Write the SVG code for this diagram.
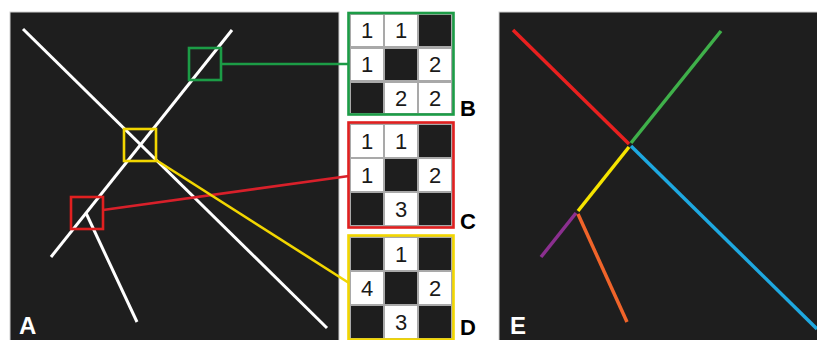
<svg xmlns="http://www.w3.org/2000/svg" width="817" height="340" viewBox="0 0 817 340">
<style>
.panel{fill:#1e1e1e;stroke:#cfcfcf;stroke-width:1}
.wl{stroke:#ffffff;stroke-width:3;stroke-linecap:butt;fill:none}
.el{stroke-width:3.5;stroke-linecap:butt;fill:none}
.grid{fill:#a9a9a9}
.w{fill:#ffffff}
.b{fill:#1e1e1e}
.num{font-family:"Liberation Sans",Arial,sans-serif;font-size:22px;fill:#1a1a1a;text-anchor:middle}
.lab{font-family:"Liberation Sans",Arial,sans-serif;font-size:22px;font-weight:bold}
.big{font-size:24px}
.box{fill:none;stroke-width:2.6}
</style>
<rect width="817" height="340" fill="#ffffff"/>
<g id="panelA">
<rect class="panel" x="10" y="12" width="329" height="330"/>
<line class="wl" x1="23" y1="29" x2="327" y2="328"/>
<line class="wl" x1="232" y1="30" x2="51" y2="257"/>
<line class="wl" x1="86" y1="213" x2="137" y2="322"/>
<text class="lab big" x="19" y="334" fill="#ffffff">A</text>
</g>
<g id="connectors">
<line x1="221" y1="64" x2="349" y2="64" stroke="#1c9c46" stroke-width="2.6"/>
<line x1="103" y1="210" x2="349" y2="176" stroke="#d8202a" stroke-width="2.6"/>
<line x1="156" y1="160" x2="349" y2="283" stroke="#f2d600" stroke-width="2.6"/>
</g>
<g id="boxGreen"><rect class="box" x="189" y="48" width="32" height="32" stroke="#1c9c46"/></g>
<g id="boxYellow"><rect class="box" x="124" y="129" width="32" height="32" stroke="#f2d600"/></g>
<g id="boxRed"><rect class="box" x="71" y="197" width="32" height="32" stroke="#e02020"/></g>
<g id="gridB">
<rect class="grid" x="349" y="13" width="104" height="101"/>
<rect class="w" x="351" y="15" width="32" height="31"/>
<rect class="w" x="385" y="15" width="32" height="31"/>
<rect class="b" x="419" y="15" width="32" height="31"/>
<rect class="w" x="351" y="49" width="32" height="31"/>
<rect class="b" x="385" y="49" width="32" height="31"/>
<rect class="w" x="419" y="49" width="32" height="31"/>
<rect class="b" x="351" y="83" width="32" height="30"/>
<rect class="w" x="385" y="83" width="32" height="30"/>
<rect class="w" x="419" y="83" width="32" height="30"/>
<text class="num" x="367" y="38">1</text>
<text class="num" x="401" y="38">1</text>
<text class="num" x="367" y="72">1</text>
<text class="num" x="435" y="72">2</text>
<text class="num" x="401" y="106">2</text>
<text class="num" x="435" y="106">2</text>
<rect class="box" x="348.5" y="13" width="105" height="101.5" stroke="#1c9c46"/>
<text class="lab" x="460" y="116" fill="#000000">B</text>
</g>
<g id="gridC">
<rect class="grid" x="349" y="122" width="104" height="105"/>
<rect class="w" x="351" y="125" width="32" height="32"/>
<rect class="w" x="385" y="125" width="32" height="32"/>
<rect class="b" x="419" y="125" width="32" height="32"/>
<rect class="w" x="351" y="159" width="32" height="32"/>
<rect class="b" x="385" y="159" width="32" height="32"/>
<rect class="w" x="419" y="159" width="32" height="32"/>
<rect class="b" x="351" y="193" width="32" height="32"/>
<rect class="w" x="385" y="193" width="32" height="32"/>
<rect class="b" x="419" y="193" width="32" height="32"/>
<text class="num" x="367" y="149">1</text>
<text class="num" x="401" y="149">1</text>
<text class="num" x="367" y="183">1</text>
<text class="num" x="435" y="183">2</text>
<text class="num" x="401" y="217">3</text>
<rect class="box" x="348.5" y="122.5" width="105" height="105" stroke="#e02020"/>
<text class="lab" x="460" y="229" fill="#000000">C</text>
</g>
<g id="gridD">
<rect class="grid" x="349" y="235" width="104" height="104"/>
<rect class="b" x="351" y="238" width="32" height="32"/>
<rect class="w" x="385" y="238" width="32" height="32"/>
<rect class="b" x="419" y="238" width="32" height="32"/>
<rect class="w" x="351" y="272" width="32" height="32"/>
<rect class="b" x="385" y="272" width="32" height="32"/>
<rect class="w" x="419" y="272" width="32" height="32"/>
<rect class="b" x="351" y="306" width="32" height="32"/>
<rect class="w" x="385" y="306" width="32" height="32"/>
<rect class="b" x="419" y="306" width="32" height="32"/>
<text class="num" x="401" y="262">1</text>
<text class="num" x="367" y="296">4</text>
<text class="num" x="435" y="296">2</text>
<text class="num" x="401" y="330">3</text>
<rect class="box" x="348.5" y="235.5" width="105" height="104" stroke="#f2d600"/>
<text class="lab" x="460" y="335" fill="#000000">D</text>
</g>
<g id="panelE">
<rect class="panel" x="499" y="12" width="320" height="330"/>
<line class="el" x1="513" y1="30" x2="629" y2="144" stroke="#e8201f"/>
<line class="el" x1="721" y1="31" x2="631" y2="143" stroke="#3fb04a"/>
<line class="el" x1="631" y1="146" x2="817" y2="329" stroke="#1ea8e0"/>
<line class="el" x1="629" y1="147" x2="578" y2="211" stroke="#f5e400"/>
<line class="el" x1="576" y1="213" x2="541" y2="257" stroke="#8b2f8f"/>
<line class="el" x1="578" y1="214" x2="627" y2="322" stroke="#f0642a"/>
<text class="lab big" x="510" y="334" fill="#ffffff">E</text>
</g>
</svg>
